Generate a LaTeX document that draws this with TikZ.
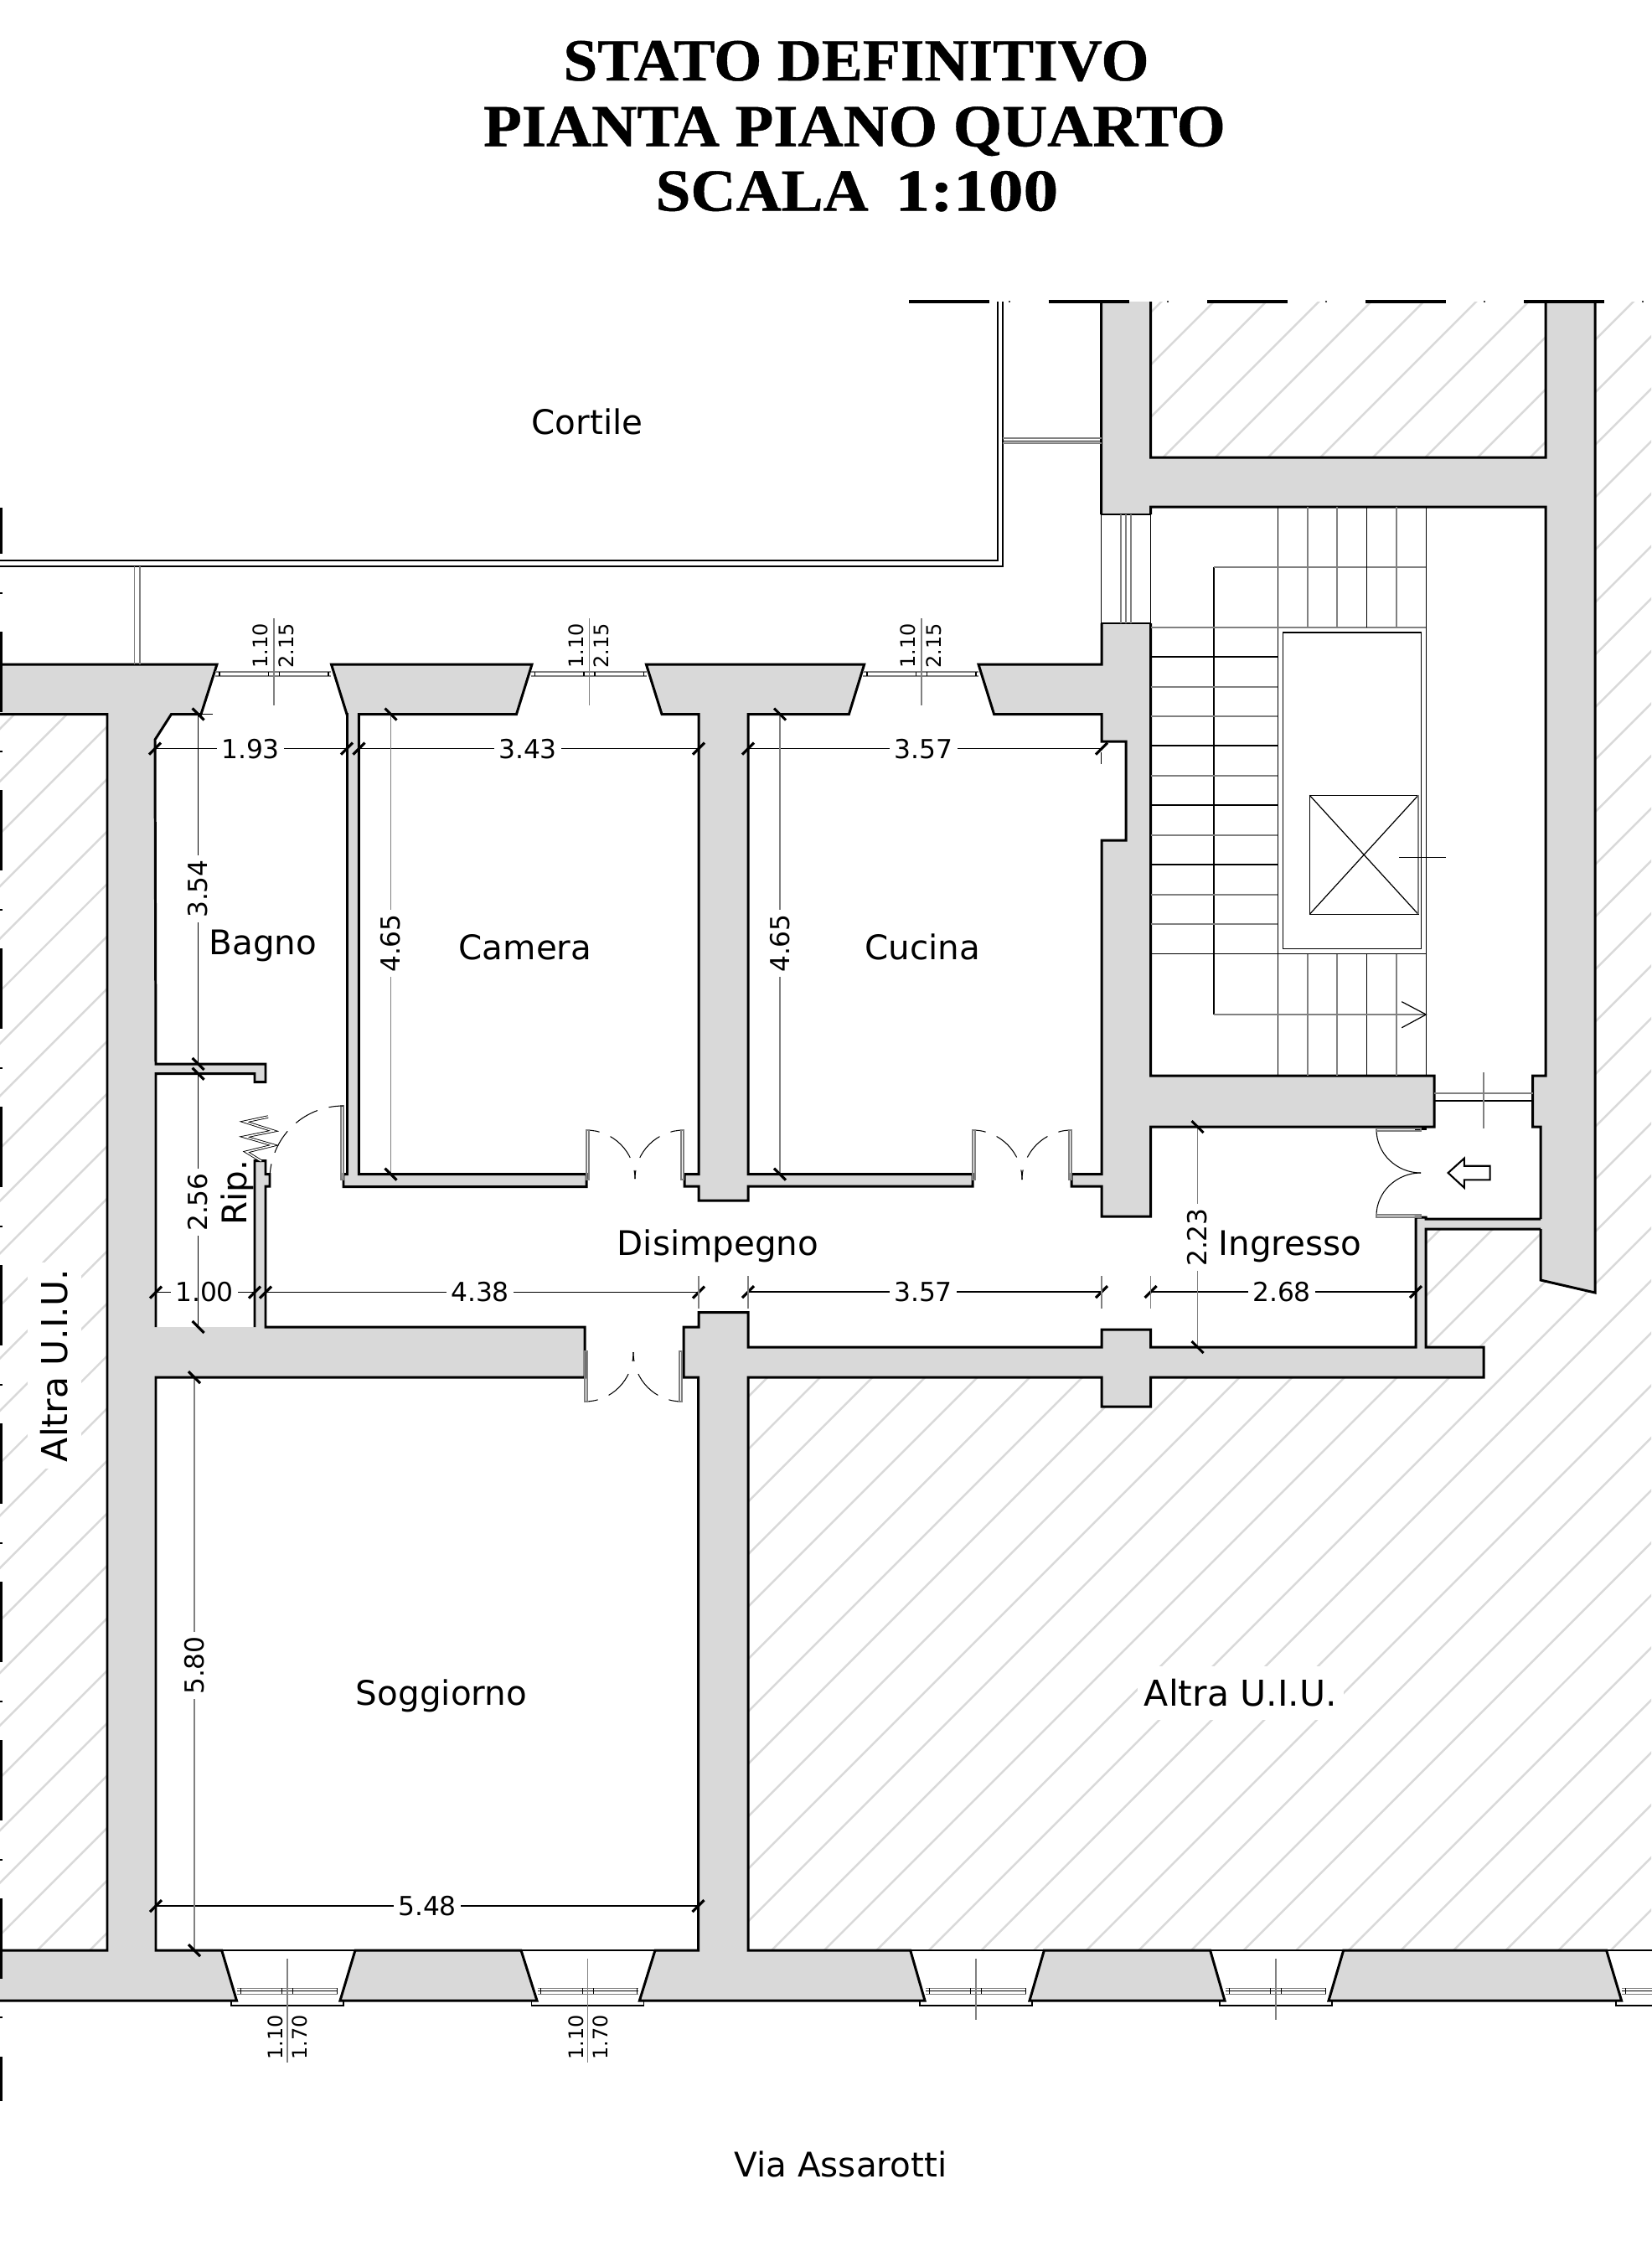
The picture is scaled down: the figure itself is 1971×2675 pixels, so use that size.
\documentclass[tikz,border=0pt]{standalone}
\usepackage{fontspec}
\setmainfont{DejaVu Sans}
\newfontfamily\titlefont[FakeStretch=1.03,FakeBold=.6]{Liberation Serif}
\newfontfamily\titlewide[FakeStretch=1.05,FakeBold=.6]{Liberation Serif}
\newfontfamily\titledigits[FakeStretch=1.17,FakeBold=.6]{Liberation Serif}
\definecolor{wallgray}{HTML}{D9D9D9}
\definecolor{hatchgray}{HTML}{D9D9D9}
\definecolor{glassgray}{HTML}{808080}
\tikzset{
  wallfill/.style={fill=wallgray},
  wallline/.style={draw=black,line width=.85pt,line join=miter},
  wallbox/.style={wallfill,wallline},
  thinline/.style={draw=black,line width=.35pt},
  glassline/.style={draw=glassgray,line width=.45pt},
  hatchline/.style={draw=hatchgray,line width=.7pt},
  tickline/.style={draw=black,line width=.9pt},
  doorarc/.style={draw=black,line width=.3pt,dash pattern=on 4.5pt off 4pt on 10pt off 4.5pt on 5.7pt off 1pt},
  roomlabel/.style={anchor=base,inner sep=0pt,font=\fontsize{11.5}{13}\selectfont},
  unitlabel/.style={fill=white,inner xsep=2.3pt,inner ysep=0pt,minimum height=18.2pt,font=\fontsize{12.1}{14}\selectfont},
  dimlabel/.style={fill=white,inner sep=1.6pt,font=\fontsize{8.9}{10}\selectfont},
  winlabel/.style={rotate=90,inner sep=0pt,font=\fontsize{6.8}{8}\selectfont},
  titlelabel/.style={anchor=base,inner sep=0pt,font=\titlefont\bfseries\fontsize{20.3}{24}\selectfont}
}
\begin{document}
\begin{tikzpicture}[x=0.01cm,y=-0.01cm]
\useasboundingbox (0,0) rectangle (1971,2675);

% hatching of the other units
\begin{scope}
\clip (0,852.5) rectangle (128,2328)
  (1373.5,360) rectangle (1845,546)
  (893,1644) -- (1771,1644) -- (1771,1608) -- (1702,1608) -- (1702,1467) -- (1839,1467) -- (1839,1528) -- (1904,1543) -- (1904,360) -- (1971,360) -- (1971,2328) -- (893,2328) -- cycle;
\foreach \k in {-18,...,38}
  \draw[hatchline] ({1934.3+62.61*\k},0) -- ({1934.3+62.61*\k-2700},2700);
\end{scope}

% walls
\fill[wallfill] (1314.5,360) -- (1373.5,360) -- (1373.5,546) -- (1845,546) -- (1845,360) -- (1904,360) -- (1904,1543) -- (1839,1528) -- (1839,1345) -- (1829.5,1345) -- (1829.5,1284) -- (1845,1284) -- (1845,605) -- (1373.5,605) -- (1373.5,614) -- (1314.5,614) -- cycle;
\draw[wallline] (1373.5,360) -- (1373.5,546) -- (1845,546) -- (1845,360)
  (1314.5,360) -- (1314.5,614)
  (1373.5,614) -- (1373.5,605) -- (1845,605) -- (1845,1284) -- (1829.5,1284) -- (1829.5,1345) -- (1839,1345) -- (1839,1455)
  (1839,1467) -- (1839,1528) -- (1904,1543) -- (1904,360);

\fill[wallfill] (0,793) -- (259,793) -- (240,852.5) -- (204.5,852.5) -- (185,883) -- (186,1270) -- (317,1270) -- (317,1291.7) -- (304,1291.7) -- (304,1281.7) -- (186,1281.7) -- (186,1584) -- (304,1584) -- (304,1385.7) -- (317,1385.7) -- (317,1401.7) -- (322,1401.7) -- (322,1416) -- (317,1416) -- (317,1584) -- (698,1584) -- (698,1644) -- (186,1644) -- (186,2328) -- (264.7,2328) -- (282.5,2388) -- (0,2388) -- (0,2328) -- (128,2328) -- (128,852.5) -- (0,852.5) -- cycle;
\draw[wallline] (0,793) -- (259,793) -- (240,852.5) -- (204.5,852.5) -- (185,883) -- (186,1270) -- (317,1270) -- (317,1291.7) -- (304,1291.7) -- (304,1281.7) -- (186,1281.7) -- (186,1584)
  (304,1584) -- (304,1385.7) -- (317,1385.7) -- (317,1401.7) -- (322,1401.7) -- (322,1416) -- (317,1416) -- (317,1584) -- (698,1584) -- (698,1644) -- (186,1644) -- (186,2328) -- (264.7,2328) -- (282.5,2388) -- (0,2388)
  (0,2328) -- (128,2328) -- (128,852.5) -- (0,852.5);

\filldraw[wallbox] (395.5,793) -- (635,793) -- (616.5,852.5) -- (428.4,852.5) -- (428.4,1401.7) -- (700,1401.7) -- (700,1416.7) -- (410,1416.7) -- (410,1401.7) -- (414.5,1401.7) -- (414.5,852.5) -- (414,852.5) -- cycle;
\filldraw[wallbox] (771.4,793) -- (1031.7,793) -- (1013.4,852.5) -- (893,852.5) -- (893,1401.7) -- (1161,1401.7) -- (1161,1416) -- (893,1416) -- (893,1433) -- (834,1433) -- (834,1416) -- (817,1416) -- (817,1401.7) -- (834,1401.7) -- (834,852.5) -- (790,852.5) -- cycle;

\fill[wallfill] (1373.5,744) -- (1373.5,1284) -- (1712,1284) -- (1712,1345) -- (1373.5,1345) -- (1373.5,1452) -- (1315,1452) -- (1315,1416) -- (1279,1416) -- (1279,1401.7) -- (1315,1401.7) -- (1315,1003) -- (1344,1003) -- (1344,885) -- (1315,885) -- (1315,852.5) -- (1186.6,852.5) -- (1168,793) -- (1315,793) -- (1315,744) -- cycle;
\draw[wallline] (1373.5,744) -- (1373.5,1284) -- (1712,1284) -- (1712,1345) -- (1373.5,1345) -- (1373.5,1452) -- (1315,1452) -- (1315,1416) -- (1279,1416) -- (1279,1401.7) -- (1315,1401.7) -- (1315,1003) -- (1344,1003) -- (1344,885) -- (1315,885) -- (1315,852.5) -- (1186.6,852.5) -- (1168,793) -- (1315,793) -- (1315,744);
\draw[wallline] (1690,1345) -- (1690,1347.5) -- (1701,1347.5) -- (1701,1345);

\fill[wallfill] (1839,1455) -- (1702,1455) -- (1702,1453) -- (1690,1453) -- (1690,1608) -- (1373.6,1608) -- (1373.6,1587) -- (1315,1587) -- (1315,1608) -- (893,1608) -- (893,1566.7) -- (834,1566.7) -- (834,1584) -- (816,1584) -- (816,1644) -- (833.5,1644) -- (833.5,2328) -- (782,2328) -- (763.4,2388) -- (1104,2388) -- (1086.7,2328) -- (893,2328) -- (893,1644) -- (1315,1644) -- (1315,1679) -- (1373.6,1679) -- (1373.6,1644) -- (1771,1644) -- (1771,1608) -- (1702,1608) -- (1702,1467) -- (1839,1467) -- cycle;
\draw[wallline] (1839,1455) -- (1702,1455) -- (1702,1453) -- (1690,1453) -- (1690,1608) -- (1373.6,1608) -- (1373.6,1587) -- (1315,1587) -- (1315,1608) -- (893,1608) -- (893,1566.7) -- (834,1566.7) -- (834,1584) -- (816,1584) -- (816,1644) -- (833.5,1644) -- (833.5,2328) -- (782,2328) -- (763.4,2388) -- (1104,2388) -- (1086.7,2328) -- (893,2328) -- (893,1644) -- (1315,1644) -- (1315,1679) -- (1373.6,1679) -- (1373.6,1644) -- (1771,1644) -- (1771,1608) -- (1702,1608) -- (1702,1467) -- (1839,1467);

\filldraw[wallbox] (424,2328) -- (622,2328) -- (641,2388) -- (406,2388) -- cycle;
\filldraw[wallbox] (1246.4,2328) -- (1444.6,2328) -- (1462,2388) -- (1229,2388) -- cycle;
\filldraw[wallbox] (1603.7,2328) -- (1917.6,2328) -- (1935.6,2388) -- (1586,2388) -- cycle;

% courtyard and top cut line
\draw[thinline] (0,669) -- (1191,669) -- (1191,360);
\draw[thinline] (0,676) -- (1197,676) -- (1197,360);
\draw[glassline] (160.7,676) -- (160.7,793) (167,676) -- (167,793);
\draw[glassline] (1197,523) -- (1314.5,523) (1197,529) -- (1314.5,529);
\draw[thinline,line width=.25pt] (1197,526) -- (1314.5,526);
\foreach \x in {1085,1251.5,1441,1630,1819}
  \draw[tickline] (\x,360) -- (\x+96,360);
\foreach \x in {1205,1394,1583,1772,1961}
  \fill (\x,360) circle (1.2);
\foreach \y/\z in {606/661,754/850,943/1039,1132/1228,1321/1417,1510/1606,1699/1795,1888/1984,2077/2173,2266/2362,2455/2508}
  \draw[tickline] (1,\y) -- (1,\z);
\foreach \y in {708,897,1086,1275,1464,1653,1842,2031,2220,2408}
  \draw[thinline] (0,\y) -- (3,\y);

% top windows
\foreach \c [count=\i] in {327,703.5,1100} {
  \draw[glassline] (\c-70,802) -- (\c+68,802) (\c-70,807) -- (\c+68,807);
  \draw[thinline] (\c-65,802) -- (\c-65,807) (\c+65,802) -- (\c+65,807) (\c-6.5,802) -- (\c-6.5,807) (\c+6.5,802) -- (\c+6.5,807);
  \draw[glassline] (\c,738) -- (\c,842);
  \node[winlabel] (winh\i) at (\c-16,771) {1.10};
  \node[winlabel] (wino\i) at (\c+14.5,771) {2.15};
}

% bottom windows
\foreach \c/\e in {343/2462,701.5/2462,1165/2411,1523/2411,1996/2411} {
  \draw[thinline] (\c-80,2328) -- (\c+80,2328);
  \draw[glassline,line width=.3pt] (\c-60,2373) -- (\c+60,2373) (\c-60,2380) -- (\c+60,2380);
  \draw[thinline,line width=.25pt] (\c-60,2376.5) -- (\c+60,2376.5);
  \draw[thinline,line width=.25pt] (\c-56,2373) -- (\c-56,2380) (\c+59,2373) -- (\c+59,2380) (\c-6.5,2373) -- (\c-6.5,2380) (\c+6.5,2373) -- (\c+6.5,2380);
  \draw[thinline] (\c-67,2388) -- (\c-67,2394) -- (\c+67,2394) -- (\c+67,2388);
  \draw[glassline] (\c,2338) -- (\c,\e);
}
\node[winlabel] (winh4) at (329,2432) {1.10};
\node[winlabel] (wino4) at (358,2432) {1.70};
\node[winlabel] (winh5) at (688,2432) {1.10};
\node[winlabel] (wino5) at (717,2432) {1.70};

% stairs
\draw[thinline] (1314.5,614) -- (1314.5,744) (1373.5,614) -- (1373.5,744) (1314.5,614) -- (1373.5,614) (1314.5,744) -- (1373.5,744);
\draw[glassline] (1338,614) -- (1338,744) (1344,614) -- (1344,744) (1350,614) -- (1350,744);
\draw[thinline] (1525.3,605) -- (1525.3,1284) (1702.3,605) -- (1702.3,1284) (1449,677) -- (1449,1211);
\draw[glassline] (1449,677) -- (1702.3,677) (1373.5,748.7) -- (1702.3,748.7);
\foreach \y in {784,890,961,1032}
  \draw[thinline] (1373.5,\y) -- (1525.3,\y);
\foreach \y in {820,855,926,997,1068,1103}
  \draw[glassline] (1373.5,\y) -- (1525.3,\y);
\draw[thinline] (1373.5,1138.5) -- (1702.3,1138.5);
\foreach \x in {1561,1596,1667} {
  \draw[glassline] (\x,605) -- (\x,748.7);
  \draw[glassline] (\x,1138.5) -- (\x,1284);
}
\draw[thinline] (1631.5,605) -- (1631.5,748.7) (1631.5,1138.5) -- (1631.5,1284);
\draw[thinline] (1531.3,755) rectangle (1696.7,1132.3);
\draw[thinline] (1563.3,949.3) rectangle (1693,1091.3);
\draw[thinline] (1563.3,949.3) -- (1693,1091.3) (1563.3,1091.3) -- (1693,949.3);
\draw[glassline] (1693,949.3) -- (1693,1091.3);
\draw[thinline] (1670,1023.3) -- (1726,1023.3);
\draw[glassline] (1449,1211) -- (1702.3,1211);
\draw[thinline] (1673.3,1195.7) -- (1702.3,1211) -- (1673.3,1226.7);
\draw[glassline] (1712,1305) -- (1829.5,1305);
\draw[thinline] (1712,1314) -- (1829.5,1314);
\draw[glassline] (1771,1280) -- (1771,1347);

% doors
\foreach \xa/\xb in {700/816,1161/1279} {
  \pgfmathsetmacro{\rr}{(\xb-\xa)/2}
  \draw[doorarc] (\xa,1349) .. controls ({\xa+.55*\rr},1349) and ({\xa+\rr},{1349+.45*\rr}) .. ({\xa+\rr},{1349+\rr});
  \draw[doorarc] (\xb,1349) .. controls ({\xb-.55*\rr},1349) and ({\xb-\rr},{1349+.45*\rr}) .. ({\xb-\rr},{1349+\rr});
  \draw[glassline,line width=.35pt] (\xa,1349) rectangle (\xa+3,1408);
  \draw[glassline,line width=.35pt] (\xb-3,1349) rectangle (\xb,1408);
}
\draw[doorarc] (698,1673) .. controls (730,1673) and (756,1647) .. (756,1614);
\draw[doorarc] (814,1673) .. controls (782,1673) and (756,1647) .. (756,1614);
\draw[glassline,line width=.35pt] (698,1613) rectangle (701,1673) (811,1613) rectangle (814,1673);
\draw[glassline,line width=.35pt] (407,1320) rectangle (410,1408);
\draw[doorarc,dash pattern=on 5pt off 4pt on 8.5pt off 4pt on 8.5pt off 4pt on 5pt off 1pt] (410,1320) .. controls (361,1320) and (322,1359) .. (322,1408);
\draw[thinline,double=white,double distance=.45pt,line width=.25pt] (320,1333) -- (292,1339) -- (326.6,1350) -- (292,1357) -- (326.6,1367) -- (294,1375) -- (312,1386);
\draw[thinline,line width=.3pt] (1643,1348) .. controls (1643,1377) and (1667,1400) .. (1696,1400);
\draw[thinline,line width=.3pt] (1643,1451) .. controls (1643,1423) and (1667,1400) .. (1696,1400);
\draw[glassline,line width=.35pt] (1643,1347) rectangle (1696,1350) (1643,1450) rectangle (1696,1453);
\draw[draw=black,line width=.6pt] (1728.6,1400) -- (1747.8,1382.7) -- (1747.8,1391.7) -- (1778.6,1391.7) -- (1778.6,1408.3) -- (1747.8,1408.3) -- (1747.8,1417.7) -- cycle;

% horizontal dimensions
\foreach \xa/\xb/\yy/\txt/\xt [count=\i] in {185/414/893.6/1.93/299,428.4/834/893.6/3.43/630,893/1315/893.6/3.57/1102.7,186/304/1542.5/1.00/244,317/834/1542.5/4.38/573,893/1315/1542/3.57/1102,1373.6/1690/1542/2.68/1530,186/833.5/2275/5.48/510} {
  \draw[thinline] (\xa,\yy) -- (\xb,\yy);
  \draw[tickline] (\xa-7,\yy+7) -- (\xa+7,\yy-7);
  \draw[tickline] (\xb-7,\yy+7) -- (\xb+7,\yy-7);
  \node[dimlabel] (dimh\i) at (\xt,\yy) {\txt};
}
\foreach \x in {834,893,1315,1373.6}
  \draw[glassline] (\x,1523) -- (\x,1562);
\draw[thinline] (1314.5,898) -- (1314.5,912) (230,852.5) -- (254,852.5);

% vertical dimensions
\foreach \xx/\ya/\yb/\txt/\yt/\sty [count=\i] in {236.6/852.5/1270/3.54/1061/thinline,236.6/1281.7/1584/2.56/1435/thinline,232/1644/2328/5.80/1988/glassline,466.5/852.5/1401.7/4.65/1126/glassline,931/852.5/1401.7/4.65/1126/glassline,1429.5/1345/1608/2.23/1477/glassline} {
  \draw[\sty] (\xx,\ya) -- (\xx,\yb);
  \draw[tickline] (\xx-7,\ya-7) -- (\xx+7,\ya+7);
  \draw[tickline] (\xx-7,\yb-7) -- (\xx+7,\yb+7);
  \node[dimlabel,rotate=90] (dimv\i) at (\xx,\yt) {\txt};
}

% labels
\node[titlelabel] (title1) at (1022,96) {STATO DEFINITIVO};
\node[titlelabel] (title2) at (1020,174.5) {\titlewide PIANTA PIANO QUARTO};
\node[titlelabel] (title3) at (1023,251.5) {\titlewide SCALA\hspace{9pt}\titledigits 1:100};
\node[roomlabel] (cortile) at (701,518.5) {Cortile};
\node[roomlabel] (bagno) at (314,1139) {Bagno};
\node[roomlabel] (camera) at (627,1145) {Camera};
\node[roomlabel] (cucina) at (1101,1145) {Cucina};
\node[roomlabel] (disimpegno) at (857,1498) {Disimpegno};
\node[roomlabel] (ingresso) at (1540,1498) {Ingresso};
\node[roomlabel] (soggiorno) at (527,2035) {Soggiorno};
\node[unitlabel] (altra) at (1481,2021) {Altra U.I.U.};
\node[unitlabel,rotate=90] (altrab) at (65,1630) {Altra U.I.U.};
\node[roomlabel,anchor=center,rotate=90] (rip) at (283,1424) {Rip.};
\node[roomlabel] (via) at (1003.4,2598) {Via Assarotti};
\end{tikzpicture}
\end{document}
